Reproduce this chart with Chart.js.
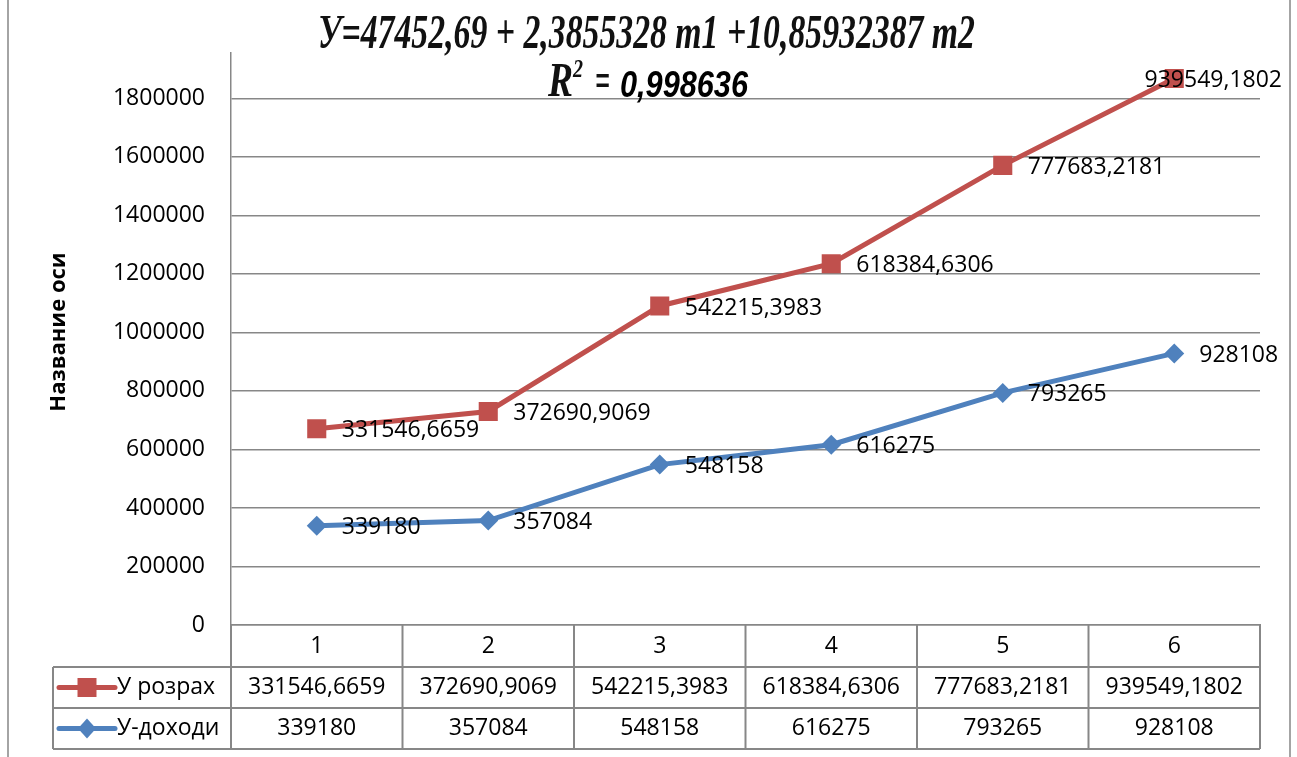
<!DOCTYPE html>
<html>
<head>
<meta charset="utf-8">
<script src="https://cdn.jsdelivr.net/npm/chart.js@4.4.0/dist/chart.umd.min.js"></script>
<style>
  html, body { margin: 0; padding: 0; background: #fff; }
  canvas { display: block; }
</style>
</head>
<body>
<canvas id="chart" width="1297" height="757"></canvas>
<script>
// data
const categories = ["1", "2", "3", "4", "5", "6"];
const yRozrakh = [331546.6659, 372690.9069, 542215.3983, 618384.6306, 777683.2181, 939549.1802];
const yDokhody = [339180, 357084, 548158, 616275, 793265, 928108];
const seriesNames = ["У розрах", "У-доходи"];
const axisMax = 2000000;
const axisStep = 200000;
const titleLine1 = "У=47452,69 + 2,3855328 m1 +10,85932387 m2";
const r2Value = "0,998636";
const axisTitle = "Название оси";

const RED = "#C0504D";
const BLUE = "#4F81BD";
const GRID = "#878787";
const FONT = '"Open Sans", "Liberation Sans", sans-serif';

const fmt = v => String(v).replace(".", ",");

// draw text squeezed/stretched horizontally to a given width
function fitText(ctx, text, font, x, y, width) {
  ctx.font = font;
  const w = ctx.measureText(text).width;
  ctx.save();
  ctx.translate(x, y);
  ctx.scale(width / w, 1);
  ctx.textAlign = "left";
  ctx.textBaseline = "alphabetic";
  ctx.fillText(text, 0, 0);
  ctx.restore();
}

function drawKey(ctx, x, y, color, style) {
  ctx.save();
  ctx.strokeStyle = color;
  ctx.fillStyle = color;
  ctx.lineWidth = 5;
  ctx.lineCap = "round";
  ctx.beginPath();
  ctx.moveTo(x - 28, y);
  ctx.lineTo(x + 28, y);
  ctx.stroke();
  ctx.beginPath();
  if (style === "rect") {
    ctx.rect(x - 9.5, y - 9.5, 19, 19);
  } else {
    ctx.moveTo(x, y - 10);
    ctx.lineTo(x + 9, y);
    ctx.lineTo(x, y + 10);
    ctx.lineTo(x - 9, y);
    ctx.closePath();
  }
  ctx.fill();
  ctx.restore();
}

// white title box that hides the top of the axis
const coverPlugin = {
  id: "cover",
  beforeDatasetsDraw(chart) {
    const ctx = chart.ctx;
    ctx.save();
    ctx.fillStyle = "#fff";
    ctx.fillRect(10, 0, 1278, 52);
    ctx.restore();
  }
};

const extrasPlugin = {
  id: "extras",
  afterDraw(chart) {
    const ctx = chart.ctx;
    const area = chart.chartArea;
    ctx.save();

    // frame
    ctx.strokeStyle = GRID;
    ctx.lineWidth = 1.5;
    ctx.beginPath();
    ctx.moveTo(8, 0); ctx.lineTo(8, 757);
    ctx.moveTo(1290, 0); ctx.lineTo(1290, 757);
    ctx.stroke();

    // title
    ctx.fillStyle = "#111";
    fitText(ctx, titleLine1, 'italic bold 48px "Liberation Serif", serif', 318, 48, 657);
    fitText(ctx, "R", 'italic bold 48px "Liberation Serif", serif', 548, 96, 25);
    fitText(ctx, "2", 'italic bold 26px "Liberation Serif", serif', 573, 77, 10);
    fitText(ctx, "=", 'italic bold 48px "Liberation Serif", serif', 595, 96, 15);
    ctx.fillStyle = "#000";
    fitText(ctx, r2Value, 'italic bold 36px "Liberation Sans", sans-serif', 620, 97, 128);

    // axis title
    ctx.save();
    ctx.translate(59, 332);
    ctx.rotate(-Math.PI / 2);
    ctx.font = "bold 22px " + FONT;
    ctx.textAlign = "center";
    ctx.textBaseline = "middle";
    ctx.fillText(axisTitle, 0, 0);
    ctx.restore();

    // data table
    const left = area.left, right = area.right;
    const colW = (right - left) / categories.length;
    const top = area.bottom;
    const rowY = [top, 667, 708, 749];
    const keyLeft = 53;
    ctx.strokeStyle = GRID;
    ctx.lineWidth = 2;
    ctx.beginPath();
    for (let r = 1; r < rowY.length; r++) {
      ctx.moveTo(keyLeft, rowY[r]);
      ctx.lineTo(right, rowY[r]);
    }
    ctx.moveTo(keyLeft, rowY[1]); ctx.lineTo(keyLeft, rowY[3]);
    for (let c = 0; c <= categories.length; c++) {
      const x = left + c * colW;
      ctx.moveTo(x, top); ctx.lineTo(x, rowY[3]);
    }
    ctx.stroke();

    ctx.fillStyle = "#000";
    ctx.font = "23px " + FONT;
    ctx.textAlign = "center";
    ctx.textBaseline = "middle";
    const rows = [yRozrakh, yDokhody];
    categories.forEach((cat, i) => {
      const cx = left + (i + 0.5) * colW;
      ctx.fillText(cat, cx, (rowY[0] + rowY[1]) / 2);
      rows.forEach((vals, r) => {
        ctx.fillText(fmt(vals[i]), cx, (rowY[r + 1] + rowY[r + 2]) / 2);
      });
    });

    // legend keys
    ctx.textAlign = "left";
    drawKey(ctx, 87, (rowY[1] + rowY[2]) / 2, RED, "rect");
    drawKey(ctx, 87, (rowY[2] + rowY[3]) / 2, BLUE, "diamond");
    ctx.fillStyle = "#000";
    ctx.fillText(seriesNames[0], 117, (rowY[1] + rowY[2]) / 2);
    ctx.fillText(seriesNames[1], 117, (rowY[2] + rowY[3]) / 2);

    // data labels
    ctx.font = "23px " + FONT;
    ctx.textBaseline = "middle";
    chart.data.datasets.forEach((ds, di) => {
      const meta = chart.getDatasetMeta(di);
      meta.data.forEach((pt, i) => {
        const text = fmt(ds.data[i]);
        const w = ctx.measureText(text).width;
        let x = pt.x + 25;
        if (x + w > 1284) x = 1282 - w;
        ctx.fillText(text, x, pt.y + 2);
      });
    });

    ctx.restore();
  }
};

new Chart(document.getElementById("chart").getContext("2d"), {
  type: "line",
  data: {
    labels: categories,
    datasets: [
      {
        label: seriesNames[1],
        data: yDokhody,
        borderColor: BLUE,
        backgroundColor: BLUE,
        borderWidth: 5,
        pointStyle: "rectRot",
        pointRadius: 10,
        pointBorderWidth: 0,
        tension: 0,
        fill: false
      },
      {
        label: seriesNames[0],
        data: yRozrakh,
        borderColor: RED,
        backgroundColor: RED,
        borderWidth: 5,
        pointStyle: "rect",
        pointRadius: 13.5,
        pointBorderWidth: 0,
        tension: 0,
        fill: false
      }
    ]
  },
  options: {
    responsive: false,
    animation: false,
    devicePixelRatio: 1,
    layout: { padding: { top: 36, right: 37, bottom: 132, left: 0 } },
    plugins: {
      legend: { display: false },
      tooltip: { enabled: false },
      title: { display: false }
    },
    scales: {
      x: {
        offset: true,
        grid: { display: false },
        ticks: { display: false },
        border: { display: true, color: GRID, width: 1.5 },
        afterFit: s => { s.height = 0; }
      },
      y: {
        stacked: true,
        min: 0,
        max: axisMax,
        ticks: {
          stepSize: axisStep,
          color: "#000",
          padding: 26,
          font: { family: FONT, size: 23 },
          callback: v => String(v)
        },
        grid: { color: GRID, lineWidth: 1.5, drawTicks: false },
        border: { color: GRID, width: 1.5 },
        afterFit: s => { s.width = 231; }
      }
    }
  },
  plugins: [coverPlugin, extrasPlugin]
});
</script>
</body>
</html>
